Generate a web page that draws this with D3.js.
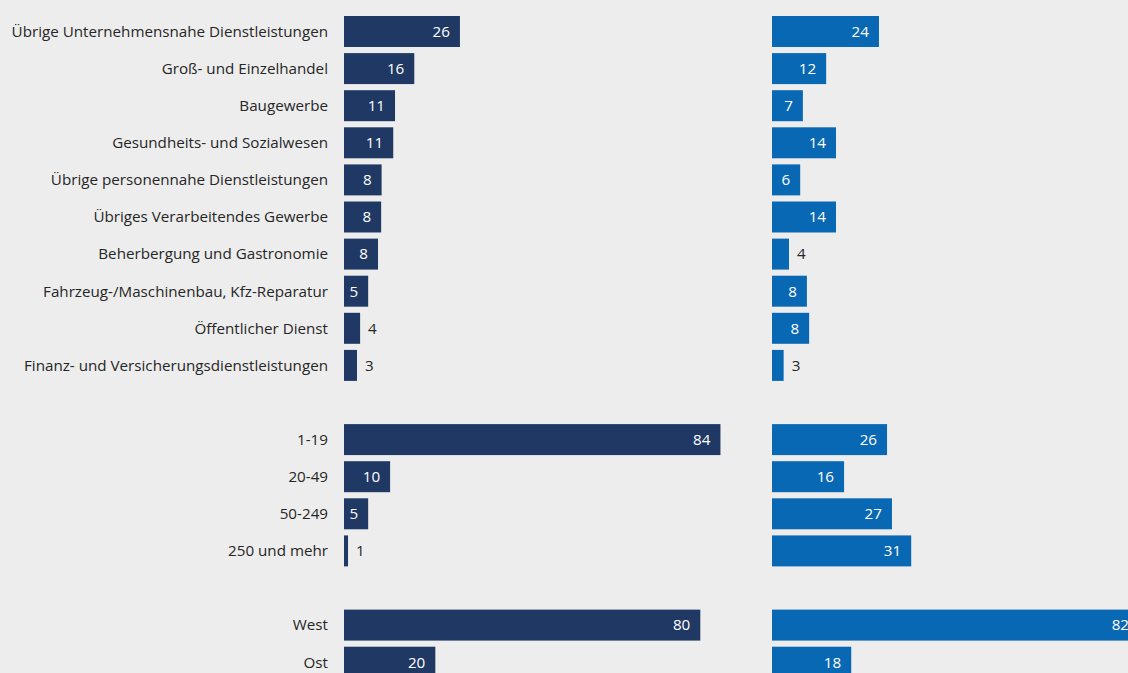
<!DOCTYPE html>
<html>
<head>
<meta charset="utf-8">
<script src="https://cdn.jsdelivr.net/npm/d3@7"></script>
<style>
  html, body { margin: 0; padding: 0; background: #ededed; overflow: hidden; }
  text { font-family: "Open Sans", "Noto Sans", sans-serif; }
</style>
</head>
<body>
<script>
// categories, grouped; spacer rows are added between the groups
var industries = [
  "Übrige Unternehmensnahe Dienstleistungen",
  "Groß- und Einzelhandel",
  "Baugewerbe",
  "Gesundheits- und Sozialwesen",
  "Übrige personennahe Dienstleistungen",
  "Übriges Verarbeitendes Gewerbe",
  "Beherbergung und Gastronomie",
  "Fahrzeug-/Maschinenbau, Kfz-Reparatur",
  "Öffentlicher Dienst",
  "Finanz- und Versicherungsdienstleistungen"
];
var sizeClasses = ["1-19", "20-49", "50-249", "250 und mehr"];
var regions = ["West", "Ost"];

// values (labels are shown rounded)
var leftIndustry  = [25.9, 15.7, 11.4, 11.0, 8.4, 8.3, 7.6, 5.4, 3.6, 2.9];
var leftSize      = [84.1, 10.3, 5.4, 0.9];
var leftRegion    = [79.6, 20.4];

var rightIndustry = [23.9, 12.1, 6.9, 14.3, 6.3, 14.3, 3.8, 7.8, 8.3, 2.6];
var rightSize     = [25.7, 16.1, 26.8, 31.1];
var rightRegion   = [82, 17.7];

var width = 1128, height = 673;
var leftX0 = 344, rightX0 = 772;
var leftColor = "#1f3864", rightColor = "#0868b4";
var fontSize = 15.2;

// build rows with spacer gaps between groups
var rows = [];
industries.forEach((c, i) => rows.push({ label: c, l: leftIndustry[i], r: rightIndustry[i] }));
rows.push(null);
sizeClasses.forEach((c, i) => rows.push({ label: c, l: leftSize[i], r: rightSize[i] }));
rows.push(null);
regions.forEach((c, i) => rows.push({ label: c, l: leftRegion[i], r: rightRegion[i] }));

var yScale = d3.scaleBand()
  .domain(d3.range(rows.length))
  .range([12.95, 12.95 + rows.length * 37.1])
  .paddingInner(0.165)
  .paddingOuter(0.0825);

var xScale = d3.scaleLinear()
  .domain([0, 84])
  .range([0, 376]);

var svg = d3.select("body")
  .append("svg")
    .attr("width", width)
    .attr("height", height);

svg.append("rect")
  .attr("width", width)
  .attr("height", height)
  .attr("fill", "#ededed");

var data = rows.map((d, i) => d ? Object.assign({ i: i }, d) : null).filter(d => d);

// category labels
svg.append("g")
  .selectAll("text")
  .data(data)
  .enter()
  .append("text")
    .attr("x", leftX0 - 16)
    .attr("y", d => yScale(d.i) + yScale.bandwidth() / 2)
    .attr("dy", "0.35em")
    .attr("text-anchor", "end")
    .attr("font-size", fontSize)
    .attr("fill", "#262626")
    .text(d => d.label);

function panel(x0, key, color) {
  var g = svg.append("g").attr("transform", "translate(" + x0 + ",0)");

  g.selectAll("rect")
    .data(data)
    .enter()
    .append("rect")
      .attr("x", 0)
      .attr("y", d => yScale(d.i))
      .attr("width", d => xScale(d[key]))
      .attr("height", yScale.bandwidth())
      .attr("fill", color);

  g.selectAll("text")
    .data(data)
    .enter()
    .append("text")
      .attr("y", d => yScale(d.i) + yScale.bandwidth() / 2)
      .attr("dy", "0.35em")
      .attr("font-size", fontSize)
      .each(function(d) {
        var w = xScale(d[key]);
        var inside = w > 22;
        d3.select(this)
          .attr("x", inside ? w - 10 : w + 8)
          .attr("text-anchor", inside ? "end" : "start")
          .attr("fill", inside ? "#ffffff" : "#262626");
      })
      .text(d => Math.round(d[key]));
}

panel(leftX0, "l", leftColor);
panel(rightX0, "r", rightColor);
</script>
</body>
</html>
